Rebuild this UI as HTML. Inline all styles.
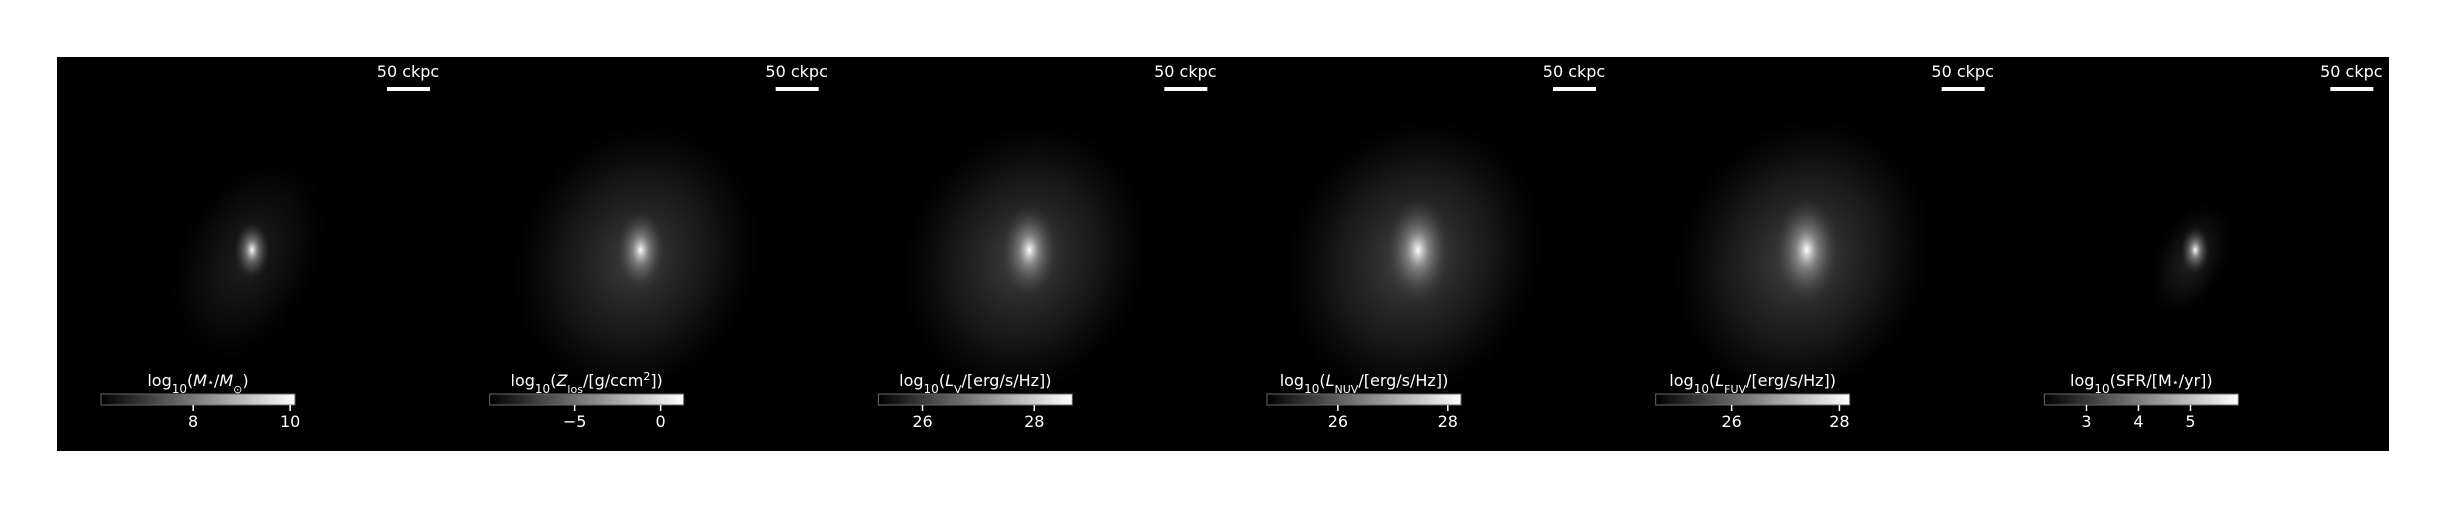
<!DOCTYPE html>
<html><head><meta charset="utf-8"><style>
html,body{margin:0;padding:0;background:#fff;}
svg{display:block;font-family:"DejaVu Sans","Liberation Sans",sans-serif;}
</style></head><body>
<svg id="fig" width="2444" height="507" viewBox="0 0 2444 507">
<defs>
<linearGradient id="cmap" x1="0" x2="1" y1="0" y2="0"><stop offset="0" stop-color="#000"/><stop offset="1" stop-color="#fff"/></linearGradient>
<radialGradient id="glow"><stop offset="0" stop-color="#fff" stop-opacity="1"/><stop offset="0.35" stop-color="#aaa" stop-opacity="0.6"/><stop offset="1" stop-color="#444" stop-opacity="0"/></radialGradient>
<radialGradient id="halo"><stop offset="0" stop-color="#888" stop-opacity="0.55"/><stop offset="0.6" stop-color="#555" stop-opacity="0.3"/><stop offset="1" stop-color="#333" stop-opacity="0"/></radialGradient>
</defs>
<rect x="57" y="57" width="2332" height="394" fill="#000"/>
<g id="panels"></g>
</svg>
<script>
const labels=['log<tspan baseline-shift="sub" font-size="12">10</tspan>(<tspan font-style="italic">M</tspan><tspan font-size="11">⋆</tspan>/<tspan font-style="italic">M</tspan><tspan baseline-shift="sub" font-size="11">⊙</tspan>)',
'log<tspan baseline-shift="sub" font-size="12">10</tspan>(<tspan font-style="italic">Z</tspan><tspan baseline-shift="sub" font-size="11">los</tspan>/[g/ccm<tspan baseline-shift="super" font-size="11">2</tspan>])',
'log<tspan baseline-shift="sub" font-size="12">10</tspan>(<tspan font-style="italic">L</tspan><tspan baseline-shift="sub" font-size="11">V</tspan>/[erg/s/Hz])',
'log<tspan baseline-shift="sub" font-size="12">10</tspan>(<tspan font-style="italic">L</tspan><tspan baseline-shift="sub" font-size="11">NUV</tspan>/[erg/s/Hz])',
'log<tspan baseline-shift="sub" font-size="12">10</tspan>(<tspan font-style="italic">L</tspan><tspan baseline-shift="sub" font-size="11">FUV</tspan>/[erg/s/Hz])',
'log<tspan baseline-shift="sub" font-size="12">10</tspan>(SFR/[M<tspan font-size="11">⋆</tspan>/yr])'];
const cbarMin=[6.10,-9.94,25.21,24.71,24.59,2.19];
const cbarMax=[10.10,1.34,28.68,28.24,28.19,5.92];
const ticks=[[8,10],[-5,0],[26,28],[26,28],[26,28],[3,4,5]];
const haloRx=[70,120,120,125,125,35];
const haloRy=[110,140,140,145,145,60];
const haloOp=[0.45,0.85,0.9,0.95,0.95,0.5];
const coreR=[22,30,35,40,40,18];
const NS='http://www.w3.org/2000/svg';
const g=document.getElementById('panels');
function mk(t,a,p){const e=document.createElementNS(NS,t);for(const k in a)e.setAttribute(k,a[k]);(p||g).appendChild(e);return e;}
const PW=2332/6;
for(let i=0;i<6;i++){
  const L=57+i*PW;
  const p=mk('g',{});
  
  
  const cx=L+195, cy=250;
  const h=mk('ellipse',{cx:cx,cy:cy+10,rx:haloRx[i],ry:haloRy[i],fill:'url(#halo)',opacity:haloOp[i],transform:`rotate(25 ${cx} ${cy})`},p);
  
  
  const c=mk('ellipse',{cx:cx,cy:cy,rx:coreR[i]*0.8,ry:coreR[i]*1.3,fill:'url(#glow)'},p);
  
  
  const st=mk('text',{x:L+351,y:77,fill:'#fff','font-size':'16','text-anchor':'middle'},p);
  st.textContent='50 ckpc';
  
  
  const sb=mk('rect',{x:L+330,y:87,width:43,height:4,fill:'#fff'},p);
  
  
  const bx=L+44,bw=194,by=394,bh=11;
  const cb=mk('rect',{x:bx,y:by,width:bw,height:bh,fill:'url(#cmap)',stroke:'#666','stroke-width':1},p);
  
  
  const lt=mk('text',{x:bx+bw/2,y:386,fill:'#fff','font-size':'16','text-anchor':'middle'},p);
  lt.innerHTML=labels[i];
  
  
  const sx=v=>bx+(v-cbarMin[i])/(cbarMax[i]-cbarMin[i])*bw;
  ticks[i].forEach(v=>{
    const x=sx(v);
    const tk=mk('line',{x1:x,x2:x,y1:by+bh,y2:by+bh+6,stroke:'#fff','stroke-width':1.5},p);
    
    
    const tl=mk('text',{x:x,y:427,fill:'#fff','font-size':'16','text-anchor':'middle'},p);
    tl.textContent=v<0?'\u2212'+Math.abs(v):String(v);
    
    
  });
}
</script>
</body></html>
